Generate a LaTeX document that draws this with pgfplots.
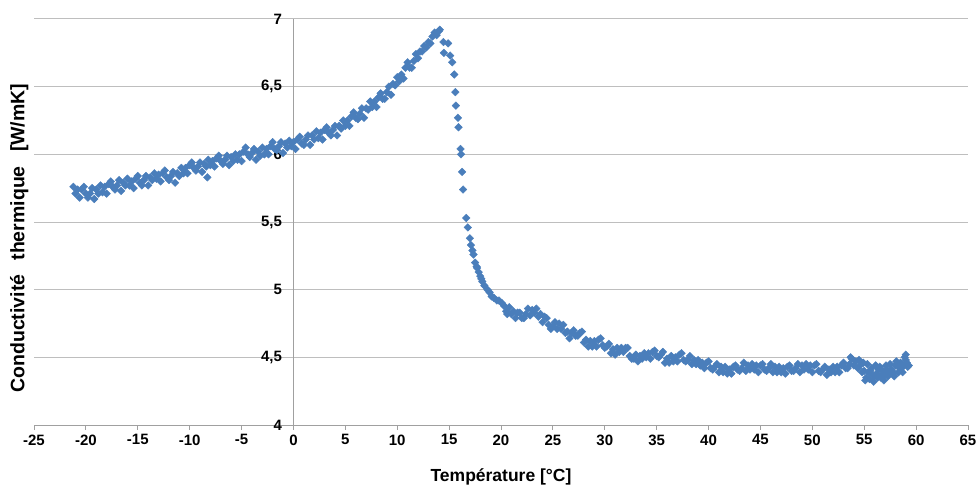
\documentclass[border=0pt]{standalone}
\usepackage{pgfplots}
\usepackage{pgfplotstable}
\pgfplotsset{compat=1.18}
\usepackage{fontspec}
\setmainfont{Liberation Sans}
\definecolor{excelblue}{RGB}{74,126,187}
\definecolor{gridgray}{RGB}{190,190,190}
\definecolor{axgray}{RGB}{160,160,160}

\pgfplotstableread{
x y
-21.2 5.76
-21.0 5.71
-20.8 5.74
-20.6 5.68
-20.4 5.74
-20.2 5.76
-20.0 5.71
-19.8 5.68
-19.6 5.71
-19.4 5.75
-19.2 5.67
-19.0 5.74
-18.8 5.71
-18.6 5.77
-18.4 5.72
-18.2 5.76
-18.0 5.71
-17.8 5.78
-17.6 5.80
-17.4 5.76
-17.2 5.74
-17.0 5.77
-16.8 5.81
-16.6 5.73
-16.4 5.79
-16.2 5.77
-16.0 5.82
-15.8 5.77
-15.6 5.80
-15.4 5.75
-15.2 5.82
-15.0 5.84
-14.8 5.79
-14.6 5.77
-14.4 5.81
-14.2 5.84
-14.0 5.77
-13.8 5.83
-13.6 5.81
-13.4 5.86
-13.2 5.82
-13.0 5.85
-12.8 5.80
-12.6 5.86
-12.4 5.88
-12.2 5.83
-12.0 5.81
-11.8 5.84
-11.6 5.87
-11.4 5.79
-11.2 5.86
-11.0 5.84
-10.8 5.90
-10.6 5.86
-10.4 5.90
-10.2 5.86
-10.0 5.92
-9.8 5.94
-9.6 5.90
-9.4 5.88
-9.2 5.91
-9.0 5.94
-8.8 5.87
-8.6 5.93
-8.4 5.91
-8.3 5.83
-8.2 5.96
-8.0 5.92
-7.8 5.95
-7.6 5.91
-7.4 5.97
-7.2 5.99
-7.0 5.95
-6.8 5.93
-6.6 5.96
-6.4 5.99
-6.2 5.92
-6.0 5.98
-5.8 5.95
-5.6 6.00
-5.4 5.96
-5.2 6.00
-5.0 5.95
-4.8 6.02
-4.6 6.05
-4.4 6.00
-4.2 5.98
-4.0 6.01
-3.8 6.04
-3.6 5.96
-3.4 6.02
-3.2 5.99
-3.0 6.05
-2.8 6.00
-2.6 6.04
-2.4 6.00
-2.2 6.06
-2.0 6.09
-1.8 6.04
-1.6 6.03
-1.4 6.06
-1.2 6.09
-1.0 6.01
-0.8 6.08
-0.6 6.05
-0.4 6.10
-0.2 6.06
0.0 6.09
0.2 6.04
0.4 6.11
0.6 6.13
0.8 6.08
1.0 6.07
1.2 6.11
1.4 6.14
1.6 6.07
1.8 6.14
2.0 6.11
2.2 6.17
2.4 6.12
2.6 6.16
2.8 6.11
3.0 6.18
3.2 6.20
3.4 6.16
3.6 6.14
3.8 6.18
4.0 6.21
4.2 6.14
4.4 6.21
4.6 6.19
4.8 6.25
5.0 6.21
5.2 6.25
5.4 6.21
5.6 6.28
5.8 6.31
6.0 6.27
6.2 6.26
6.4 6.30
6.6 6.34
6.8 6.27
7.0 6.34
7.2 6.33
7.4 6.39
7.6 6.35
7.8 6.39
8.0 6.35
8.2 6.42
8.4 6.45
8.6 6.41
8.8 6.41
9.0 6.46
9.2 6.50
9.4 6.44
9.6 6.52
9.8 6.51
10.0 6.57
10.2 6.54
10.4 6.59
10.6 6.56
10.8 6.64
11.0 6.68
11.2 6.64
11.4 6.64
11.6 6.69
11.8 6.74
12.0 6.71
12.2 6.76
12.4 6.76
12.6 6.80
12.8 6.79
13.0 6.83
13.2 6.82
13.4 6.87
13.6 6.90
13.8 6.88
14.0 6.91
14.1 6.92
14.45 6.83
14.5 6.75
14.9 6.82
15.1 6.73
15.3 6.68
15.5 6.59
15.6 6.46
15.65 6.36
15.85 6.27
15.9 6.20
16.1 6.04
16.15 6.00
16.25 5.87
16.35 5.74
16.65 5.53
16.8 5.46
17.0 5.38
17.1 5.33
17.25 5.29
17.35 5.26
17.5 5.20
17.65 5.17
17.7 5.16
17.85 5.13
18.0 5.10
18.1 5.08
18.2 5.06
18.4 5.03
18.7 5.00
18.9 4.98
19.1 4.95
19.3 4.94
19.6 4.92
19.8 4.92
20.1 4.90
20.3 4.88
20.5 4.84
20.6 4.82
20.8 4.87
21.0 4.82
21.2 4.84
21.4 4.79
21.6 4.83
21.8 4.83
22.0 4.79
22.2 4.79
22.4 4.82
22.6 4.86
22.8 4.81
23.0 4.85
23.2 4.83
23.4 4.86
23.6 4.80
23.8 4.82
24.0 4.76
24.2 4.80
24.4 4.79
24.6 4.74
24.8 4.71
25.0 4.73
25.2 4.76
25.4 4.71
25.6 4.75
25.8 4.71
26.0 4.74
26.2 4.68
26.4 4.69
26.6 4.64
26.8 4.68
27.0 4.70
27.2 4.66
27.4 4.66
27.6 4.68
27.8 4.69
28.0 4.61
28.2 4.63
28.4 4.58
28.6 4.62
28.8 4.58
29.0 4.62
29.2 4.58
29.4 4.63
29.6 4.64
29.8 4.59
30.0 4.57
30.2 4.58
30.4 4.60
30.6 4.53
30.8 4.56
31.0 4.52
31.2 4.57
31.4 4.54
31.6 4.57
31.8 4.54
32.0 4.57
32.2 4.57
32.4 4.51
32.6 4.49
32.8 4.49
33.0 4.52
33.2 4.47
33.4 4.51
33.6 4.49
33.8 4.53
34.0 4.50
34.2 4.53
34.4 4.49
34.6 4.54
34.8 4.55
35.0 4.51
35.2 4.50
35.4 4.52
35.6 4.54
35.8 4.46
36.0 4.49
36.2 4.46
36.4 4.51
36.6 4.47
36.8 4.50
37.0 4.47
37.2 4.52
37.4 4.53
37.6 4.48
37.8 4.47
38.0 4.48
38.2 4.51
38.4 4.45
38.6 4.48
38.8 4.45
39.0 4.48
39.2 4.44
39.4 4.46
39.6 4.42
39.8 4.46
40.0 4.47
40.2 4.42
40.4 4.41
40.6 4.43
40.8 4.45
41.0 4.39
41.2 4.43
41.4 4.39
41.6 4.43
41.8 4.38
42.0 4.41
42.2 4.38
42.4 4.43
42.6 4.44
42.8 4.41
43.0 4.40
43.2 4.42
43.4 4.46
43.6 4.40
43.8 4.44
44.0 4.41
44.2 4.45
44.4 4.41
44.6 4.44
44.8 4.39
45.0 4.44
45.2 4.45
45.4 4.41
45.6 4.40
45.8 4.42
46.0 4.45
46.2 4.39
46.4 4.43
46.6 4.39
46.8 4.43
47.0 4.39
47.2 4.42
47.4 4.38
47.6 4.43
47.8 4.44
48.0 4.40
48.2 4.40
48.4 4.42
48.6 4.45
48.8 4.39
49.0 4.44
49.2 4.41
49.4 4.45
49.6 4.41
49.8 4.44
50.0 4.39
50.2 4.44
50.4 4.45
50.6 4.40
50.8 4.39
51.0 4.41
51.2 4.43
51.4 4.37
51.6 4.41
51.8 4.39
52.0 4.43
52.2 4.39
52.4 4.43
52.6 4.39
52.8 4.44
53.0 4.46
53.2 4.42
53.4 4.42
53.6 4.45
53.7 4.50
53.8 4.49
54.0 4.44
54.2 4.47
54.4 4.42
54.5 4.48
54.6 4.44
54.8 4.39
54.9 4.46
55.0 4.40
55.1 4.33
55.2 4.35
55.3 4.45
55.4 4.39
55.5 4.34
55.6 4.40
55.7 4.42
55.8 4.37
55.9 4.32
56.0 4.36
56.1 4.44
56.2 4.38
56.3 4.35
56.4 4.41
56.5 4.43
56.6 4.35
56.7 4.37
56.8 4.40
56.9 4.33
57.0 4.37
57.1 4.44
57.2 4.41
57.3 4.36
57.4 4.38
57.5 4.45
57.6 4.41
57.7 4.40
57.8 4.38
57.9 4.36
58.0 4.44
58.1 4.47
58.2 4.45
58.3 4.39
58.4 4.42
58.5 4.46
58.6 4.42
58.7 4.39
58.8 4.44
58.9 4.50
59.0 4.48
59.0 4.52
59.1 4.46
59.2 4.43
59.3 4.44
}\datatable

\begin{document}
\begin{tikzpicture}
\useasboundingbox (-34pt,-63pt) rectangle (943pt,425pt);
\begin{axis}[
  at={(0pt,0pt)}, anchor=south west,
  scale only axis,
  width=934pt, height=406pt,
  xmin=-25, xmax=65, ymin=4, ymax=7,
  axis x line=bottom,
  axis y line=center,
  hide obscured y ticks=false,
  hide obscured x ticks=false,
  axis line style={-, draw=axgray, line width=0.8pt},
  xtick={-25,-20,...,65},
  ytick={4,4.5,...,7},
  tick align=outside,
  major tick length=5pt,
  xtick style={draw=axgray, line width=0.8pt},
  ytick style={draw=none},
  ymajorgrids,
  grid style={draw=gridgray, line width=1pt},
  /pgf/number format/assume math mode=true,
  /pgf/number format/use comma,
  ticklabel style={font=\fontsize{15}{17}\selectfont\bfseries},
  yticklabel style={anchor=east, xshift=-3pt},
  xticklabel style={anchor=north, yshift=-1pt},
  xlabel={Température [°C]},
  ylabel={Conductivité\hspace{0.45em} thermique\hspace{0.45em} [W/mK]},
  every axis x label/.style={at={(rel axis cs:0.5,0)}, anchor=center, yshift=-52pt, font=\fontsize{17.5}{20}\selectfont\bfseries},
  every axis y label/.style={at={([xshift=-2pt]rel axis cs:0,0.46)}, anchor=south, rotate=90, font=\fontsize{19.5}{22}\selectfont\bfseries},
  clip=false,
]
\addplot[only marks, mark=square*, mark size=2.7pt,
  mark options={rotate=45, fill=excelblue, draw=excelblue}]
  table[x=x, y=y] {\datatable};
\end{axis}
\end{tikzpicture}
\end{document}
